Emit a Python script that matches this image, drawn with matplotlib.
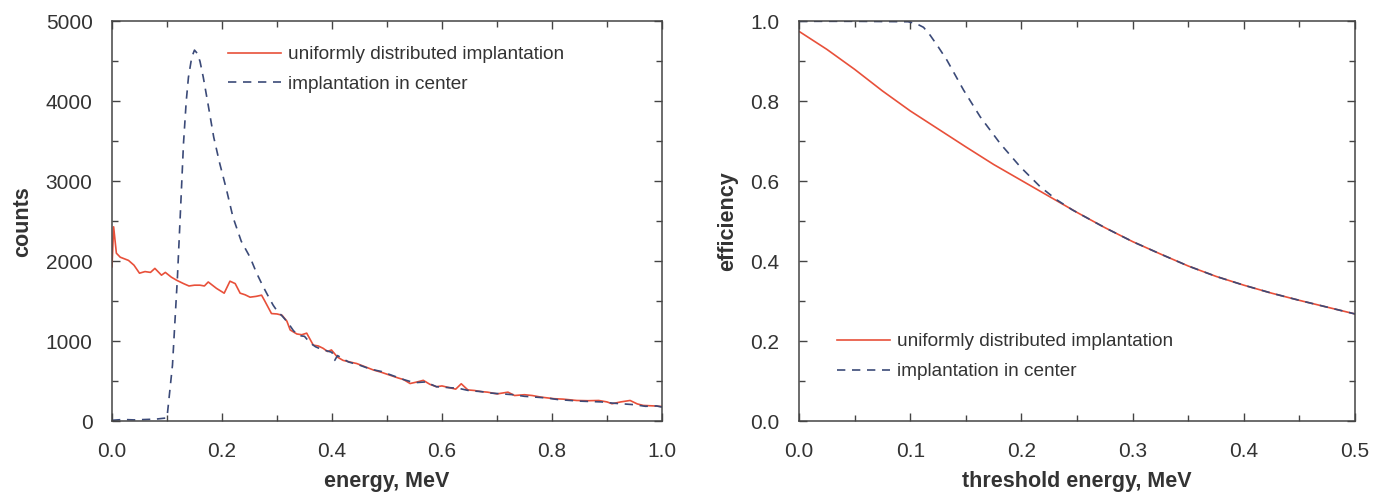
import matplotlib
matplotlib.use("Agg")
import matplotlib.pyplot as plt
from matplotlib.ticker import MultipleLocator

plt.rcParams['font.family'] = ['Liberation Sans', 'DejaVu Sans']

# left panel: energy spectra
energy_uniform = [0.0, 0.003, 0.008, 0.015, 0.03, 0.04, 0.05, 0.06, 0.07, 0.078,
                  0.09, 0.097, 0.108, 0.118, 0.13, 0.14, 0.15, 0.16, 0.168, 0.175,
                  0.19, 0.204, 0.2145, 0.224, 0.233, 0.242, 0.251, 0.262, 0.272, 0.278,
                  0.29, 0.3, 0.309, 0.318, 0.324, 0.336, 0.345, 0.354, 0.366, 0.375,
                  0.384, 0.392, 0.399, 0.41, 0.42, 0.432, 0.445, 0.46, 0.475, 0.49,
                  0.505, 0.52, 0.53, 0.542, 0.555, 0.566, 0.578, 0.59, 0.6, 0.612,
                  0.625, 0.635, 0.647, 0.659, 0.67, 0.683, 0.7, 0.72, 0.732, 0.75,
                  0.764, 0.78, 0.804, 0.82, 0.845, 0.865, 0.885, 0.9, 0.909, 0.925,
                  0.942, 0.955, 0.966, 0.985, 1.0]
counts_uniform = [1930, 2430, 2100, 2050, 2010, 1950, 1850, 1870, 1860, 1910,
                  1825, 1860, 1800, 1760, 1720, 1690, 1700, 1700, 1690, 1740,
                  1660, 1600, 1750, 1720, 1600, 1580, 1550, 1560, 1575, 1500,
                  1345, 1340, 1325, 1250, 1140, 1090, 1080, 1100, 950, 940,
                  910, 870, 890, 800, 760, 740, 720, 680, 640, 610,
                  575, 540, 520, 470, 490, 510, 460, 430, 440, 420,
                  400, 467, 390, 383, 370, 362, 340, 362, 320, 330,
                  320, 300, 280, 275, 258, 255, 258, 240, 217, 240,
                  258, 215, 196, 190, 183]

energy_center = [0.0, 0.02, 0.04, 0.06, 0.08, 0.1, 0.11, 0.119, 0.125, 0.13,
                 0.135, 0.139, 0.145, 0.15, 0.155, 0.16, 0.166, 0.175, 0.185, 0.196,
                 0.208, 0.22, 0.235, 0.251, 0.263, 0.275, 0.285, 0.293, 0.3, 0.31,
                 0.32, 0.33, 0.34, 0.35, 0.36, 0.37, 0.38, 0.39, 0.4, 0.405,
                 0.41, 0.42, 0.43, 0.45, 0.47, 0.49, 0.51, 0.53, 0.55, 0.57,
                 0.59, 0.61, 0.63, 0.65, 0.67, 0.69, 0.71, 0.73, 0.75, 0.77,
                 0.79, 0.81, 0.83, 0.85, 0.87, 0.89, 0.91, 0.93, 0.95, 0.97,
                 0.99, 1.0]
counts_center = [10, 20, 15, 20, 25, 40, 700, 1800, 2700, 3470,
                 4000, 4300, 4550, 4640, 4600, 4500, 4300, 3950, 3550, 3220,
                 2900, 2550, 2250, 2050, 1850, 1680, 1550, 1450, 1380, 1310,
                 1230, 1130, 1070, 1060, 980, 930, 900, 880, 860, 760,
                 820, 780, 740, 700, 650, 620, 570, 520, 480, 490,
                 430, 420, 410, 380, 370, 350, 340, 330, 310, 300,
                 290, 270, 260, 250, 245, 240, 225, 215, 205, 185,
                 190, 175]

# right panel: efficiency vs threshold
threshold_uniform = [0.0, 0.025, 0.05, 0.075, 0.1, 0.125, 0.15, 0.175, 0.2, 0.225,
                     0.25, 0.275, 0.3, 0.325, 0.35, 0.375, 0.4, 0.425, 0.45, 0.475, 0.5]
eff_uniform = [0.975, 0.93, 0.88, 0.826, 0.776, 0.731, 0.686, 0.642, 0.602, 0.562,
               0.522, 0.484, 0.449, 0.418, 0.388, 0.362, 0.34, 0.32, 0.302, 0.285, 0.268]

threshold_center = [0.0, 0.05, 0.098, 0.105, 0.112, 0.118, 0.125, 0.133, 0.148, 0.163,
                    0.181, 0.199, 0.217, 0.232, 0.246, 0.25, 0.275, 0.3, 0.325, 0.35,
                    0.375, 0.4, 0.425, 0.45, 0.475, 0.5]
eff_center = [1.0, 1.0, 0.999, 0.995, 0.985, 0.965, 0.937, 0.903, 0.828, 0.761,
              0.694, 0.636, 0.586, 0.553, 0.528, 0.522, 0.484, 0.449, 0.418, 0.388,
              0.362, 0.34, 0.32, 0.302, 0.285, 0.268]

label_u = 'uniformly distributed implantation'
label_c = 'implantation in center'
red = '#e8503a'
navy = '#3b4a78'
txt = '#333333'

fig = plt.figure(figsize=(13.74, 4.96), dpi=100)
ax1 = fig.add_axes([0.0815, 0.151, 0.4003, 0.806])
ax2 = fig.add_axes([0.5815, 0.151, 0.4047, 0.806])


def style_axes(ax, xmaj, xmin, ymaj, ymin):
    ax.xaxis.set_major_locator(MultipleLocator(xmaj))
    ax.xaxis.set_minor_locator(MultipleLocator(xmin))
    ax.yaxis.set_major_locator(MultipleLocator(ymaj))
    ax.yaxis.set_minor_locator(MultipleLocator(ymin))
    ax.tick_params(which='both', direction='in', top=True, right=True,
                   labelsize=15, labelcolor=txt, color='#444444')
    ax.tick_params(axis='x', which='both', pad=15)
    ax.tick_params(axis='y', which='both', pad=14)
    ax.tick_params(which='major', length=6, width=1)
    ax.tick_params(which='minor', length=4, width=1)
    for sp in ax.spines.values():
        sp.set_color('#444444')
        sp.set_linewidth(1.1)


leg_kw = dict(frameon=False, fontsize=13.7, handlelength=2.8, handletextpad=0.35,
              labelspacing=0.65, borderpad=0, borderaxespad=0, labelcolor=txt)

ax1.plot(energy_uniform, counts_uniform, color=red, lw=1.2, label=label_u)
ax1.plot(energy_center, counts_center, color=navy, lw=1.2, ls=(0, (5, 4)), label=label_c)
ax1.set_xlim(0, 1.0)
ax1.set_ylim(0, 5000)
style_axes(ax1, 0.2, 0.1, 1000, 500)
ax1.xaxis.set_major_formatter(plt.FormatStrFormatter('%.1f'))
ax1.set_xlabel('energy, MeV', fontsize=15.5, fontweight='bold', color=txt, labelpad=7)
ax1.set_ylabel('counts', fontsize=15.5, fontweight='bold', color=txt, labelpad=9)
ax1.legend(loc='upper left', bbox_to_anchor=(0.211, 0.938), **leg_kw)

ax2.plot(threshold_uniform, eff_uniform, color=red, lw=1.2, label=label_u)
ax2.plot(threshold_center, eff_center, color=navy, lw=1.2, ls=(0, (5, 4)), label=label_c)
ax2.set_xlim(0, 0.5)
ax2.set_ylim(0, 1.0)
style_axes(ax2, 0.1, 0.05, 0.2, 0.1)
ax2.xaxis.set_major_formatter(plt.FormatStrFormatter('%.1f'))
ax2.yaxis.set_major_formatter(plt.FormatStrFormatter('%.1f'))
ax2.set_xlabel('threshold energy, MeV', fontsize=15.5, fontweight='bold', color=txt, labelpad=7)
ax2.set_ylabel('efficiency', fontsize=15.5, fontweight='bold', color=txt, labelpad=9)
ax2.legend(loc='upper left', bbox_to_anchor=(0.068, 0.22), **leg_kw)

plt.savefig('out.png', dpi=100)
